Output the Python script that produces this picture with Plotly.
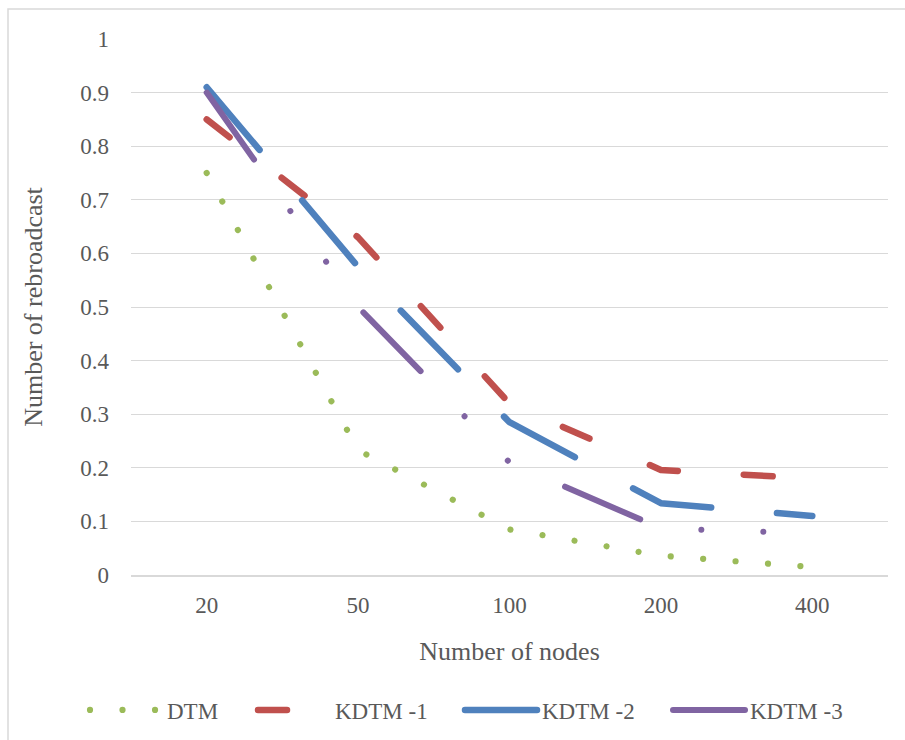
import plotly.graph_objects as go

categories = ["20", "50", "100", "200", "400"]
dtm = [0.75, 0.233, 0.085, 0.036, 0.015]
kdtm1 = [0.85, 0.63, 0.32, 0.196, 0.18]
kdtm2 = [0.91, 0.575, 0.285, 0.134, 0.11]
kdtm3 = [0.90, 0.50, 0.21, 0.087, 0.078]
series_names = ["DTM", "KDTM -1", "KDTM -2", "KDTM -3"]
y_ticks = [0, 0.1, 0.2, 0.3, 0.4, 0.5, 0.6, 0.7, 0.8, 0.9, 1]

FONT = "Liberation Serif"
TXT = "#595959"
GRID = "#d9d9d9"

W, H = 905, 740
ML, MR, MT, MB = 131, 17, 39, 165
PW, PH = W - ML - MR, H - MT - MB

styles = [
    dict(color="#9BBB59", width=6.2, dash="0.01px,32.5px"),
    dict(color="#C0504D", width=6.5, dash="29px,66px"),
    dict(color="#4F81BD", width=6.5, dash="82px,66px"),
    dict(color="#8064A2", width=6, dash="82px,63px,0.01px,62px,0.01px,63px"),
]
legend_px = [85, 253, 460, 668]
legend_ids = ["legend", "legend2", "legend3", "legend4"]

fig = go.Figure()
for name, vals, st, lid in zip(series_names, [dtm, kdtm1, kdtm2, kdtm3], styles, legend_ids):
    fig.add_trace(go.Scatter(x=categories, y=vals, name=name, mode="lines",
                             line=st, hoverinfo="skip", legend=lid))

legend_common = dict(orientation="h", xanchor="left",
                     y=-(710 - (H - MB)) / PH, yanchor="middle",
                     font=dict(size=23, family=FONT, color=TXT),
                     itemwidth=72, bgcolor="rgba(0,0,0,0)", borderwidth=0)
legends = {lid: dict(legend_common, x=(px - ML) / PW) for lid, px in zip(legend_ids, legend_px)}

fig.update_layout(
    width=W, height=H,
    margin=dict(l=ML, r=MR, t=MT, b=MB, autoexpand=False),
    paper_bgcolor="white", plot_bgcolor="white",
    font=dict(family=FONT, color=TXT, size=23),
    showlegend=True,
    xaxis=dict(type="category", categoryorder="array", categoryarray=categories,
               range=[-0.5, 4.5], showline=True, linecolor=GRID, linewidth=1.5,
               showgrid=False, ticks="", ticklabelstandoff=9,
               tickfont=dict(size=23, family=FONT, color=TXT),
               title=dict(text="Number of nodes", standoff=24,
                          font=dict(size=26, family=FONT, color=TXT))),
    yaxis=dict(range=[0, 1], tickvals=y_ticks, showgrid=True, gridcolor=GRID,
               gridwidth=1.3, zeroline=False, showline=False, ticks="",
               ticklabelstandoff=21,
               tickfont=dict(size=23, family=FONT, color=TXT),
               title=dict(text="Number of rebroadcast", standoff=30,
                          font=dict(size=26, family=FONT, color=TXT))),
    shapes=[dict(type="rect", xref="paper", yref="paper",
                 x0=(8 - ML) / PW, x1=(W + 20 - ML) / PW,
                 y0=-(H + 20 - (H - MB)) / PH, y1=((H - MB) - 9) / PH,
                 line=dict(color=GRID, width=1.5), layer="below")],
    **legends,
)

post = """
var gd = document.getElementById('{plot_id}');
gd.querySelectorAll('path.js-line').forEach(function(p){
  p.style.strokeLinecap = 'round';
  p.style.strokeLinejoin = 'round';
});
"""
fig.write_html("out.html", post_script=post)
